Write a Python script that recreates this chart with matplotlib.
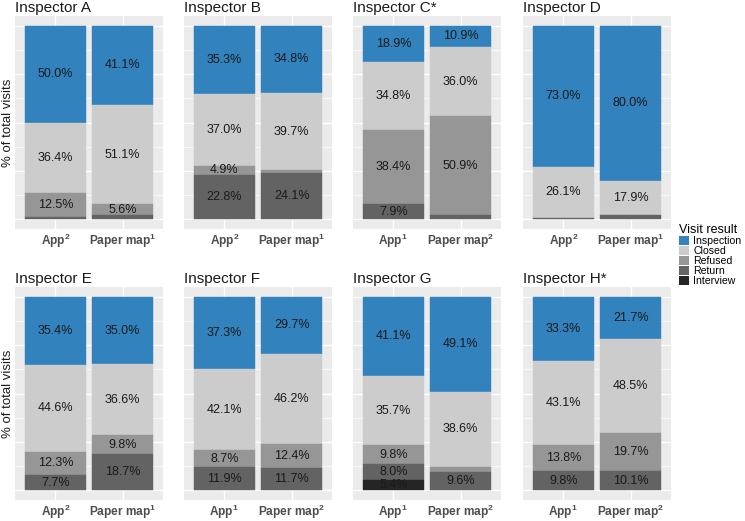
import numpy as np
import matplotlib.pyplot as plt
from matplotlib.patches import Patch

plt.rcParams['font.family'] = ['Liberation Sans', 'DejaVu Sans']
plt.rcParams['mathtext.fontset'] = 'custom'
plt.rcParams['mathtext.rm'] = 'Liberation Sans'
plt.rcParams['mathtext.default'] = 'regular'

inspectors = ['Inspector A', 'Inspector B', 'Inspector C*', 'Inspector D',
              'Inspector E', 'Inspector F', 'Inspector G', 'Inspector H*']
results = ['Inspection', 'Closed', 'Refused', 'Return', 'Interview']
colors = ['#3182BD', '#CCCCCC', '#969696', '#636363', '#252525']

# superscript on App / Paper map per panel
app_sup = [2, 2, 1, 2, 2, 1, 1, 1]
map_sup = [1, 1, 2, 1, 1, 2, 2, 2]

# percentages: Inspection, Closed, Refused, Return, Interview
app_pct = [
    [50.0, 36.4, 12.5, 1.1, 0.0],
    [35.3, 37.0, 4.9, 22.8, 0.0],
    [18.9, 34.8, 38.4, 7.9, 0.0],
    [73.0, 26.1, 0.0, 0.9, 0.0],
    [35.4, 44.6, 12.3, 7.7, 0.0],
    [37.3, 42.1, 8.7, 11.9, 0.0],
    [41.1, 35.7, 9.8, 8.0, 5.4],
    [33.3, 43.1, 13.8, 9.8, 0.0],
]
map_pct = [
    [41.1, 51.1, 5.6, 2.2, 0.0],
    [34.8, 39.7, 1.4, 24.1, 0.0],
    [10.9, 36.0, 50.9, 2.2, 0.0],
    [80.0, 17.9, 0.0, 2.1, 0.0],
    [35.0, 36.6, 9.8, 18.7, 0.0],
    [29.7, 46.2, 12.4, 11.7, 0.0],
    [49.1, 38.6, 2.7, 9.6, 0.0],
    [21.7, 48.5, 19.7, 10.1, 0.0],
]

W, H = 745, 521
fig = plt.figure(figsize=(W / 100, H / 100), dpi=100)

col_x = [15, 184, 353, 523]
row_y = [(16, 229), (287, 500)]
pw = 148

for i, name in enumerate(inspectors):
    r, c = divmod(i, 4)
    top, bot = row_y[r]
    ax = fig.add_axes([col_x[c] / W, 1 - bot / H, pw / W, (bot - top) / H])
    ax.set_facecolor('#EBEBEB')
    for yy in [0, 0.25, 0.5, 0.75, 1.0]:
        ax.axhline(yy, color='white', lw=1.0, zorder=0)
    for yy in [0.125, 0.375, 0.625, 0.875]:
        ax.axhline(yy, color='white', lw=0.5, zorder=0)
    for xx in [1, 2]:
        ax.axvline(xx, color='white', lw=1.0, zorder=0)

    for xpos, pct in [(1, app_pct[i]), (2, map_pct[i])]:
        vals = np.array(pct) / 100.0
        vals = vals / vals.sum()
        # stack from top: Inspection at top
        base = 1.0
        for k, v in enumerate(vals):
            if v <= 0:
                continue
            ax.bar(xpos, v, bottom=base - v, width=0.9, color=colors[k],
                   edgecolor=colors[k], lw=0.3, zorder=2)
            if pct[k] > 3:
                ax.text(xpos, base - v / 2, f'{pct[k]:.1f}%', ha='center',
                        va='center', fontsize=9, color='#1A1A1A', zorder=3)
            base -= v

    ax.set_xlim(0.4, 2.6)
    ax.set_ylim(-0.05, 1.05)
    ax.set_yticks([])
    ax.set_xticks([1, 2])
    ax.set_xticklabels([f'App$^{{{app_sup[i]}}}$', f'Paper map$^{{{map_sup[i]}}}$'],
                       fontsize=8.6, fontweight='bold', color='#4D4D4D')
    ax.tick_params(axis='x', length=0, pad=2)
    for s in ax.spines.values():
        s.set_visible(False)
    ax.set_title(name, loc='left', fontsize=11, pad=3, color='#1A1A1A')
    if c == 0:
        fig.text(8 / W, 1 - (top + bot) / 2 / H, '% of total visits', rotation=90,
                 ha='center', va='center', fontsize=9.5, color='#1A1A1A')

handles = [Patch(facecolor=col, edgecolor='none') for col in colors]
leg = fig.legend(handles, results, loc='upper left', bbox_to_anchor=(674 / W, 1 - 219 / H),
                 frameon=False, fontsize=7.6, title='Visit result', title_fontsize=9,
                 handlelength=0.9, handleheight=0.9, labelspacing=0.0,
                 handletextpad=0.4, borderpad=0, alignment='left')

fig.savefig('out.png', dpi=100)
